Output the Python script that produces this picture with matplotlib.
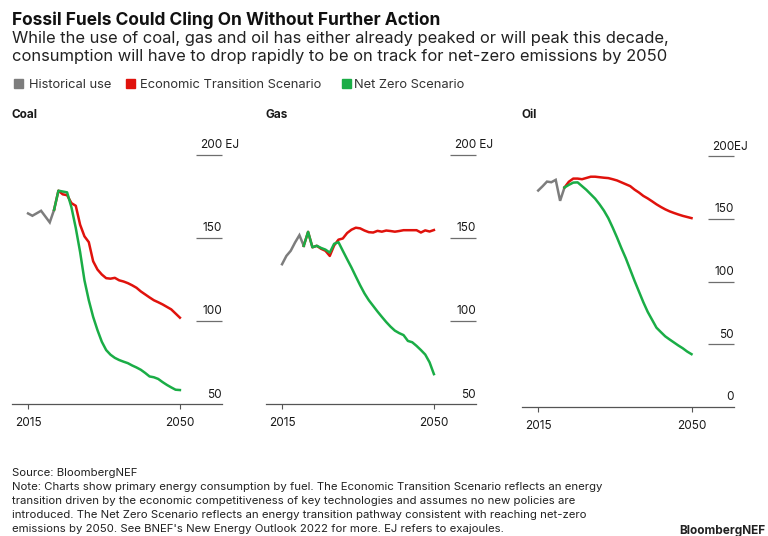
import matplotlib
matplotlib.use("Agg")
import matplotlib.pyplot as plt
from matplotlib.patches import Rectangle

plt.rcParams['font.family'] = ['Inter', 'Liberation Sans', 'DejaVu Sans']

# ---------------------------------------------------------------- data (EJ)
coal_hist_years = list(range(2015, 2022))
coal_hist = [164.8, 163.4, 164.9, 166.4, 162.9, 159.4, 167.0]
coal_scen_years = list(range(2021, 2051))
coal_ets = [167.0, 178.5, 176.3, 175.8, 171.0, 169.4, 158.0, 151.0, 147.5, 136.0,
            131.0, 128.0, 125.8, 125.5, 126.0, 124.5, 123.8, 122.8, 121.5, 120.0,
            117.8, 116.0, 114.2, 112.5, 111.3, 110.0, 108.5, 107.0, 104.5, 102.0]
coal_nz = [167.0, 178.5, 178.0, 177.5, 168.5, 156.0, 141.5, 124.5, 112.5, 102.5,
           94.5, 87.5, 82.5, 79.7, 77.8, 76.5, 75.5, 74.6, 73.2, 72.0,
           70.6, 68.7, 66.6, 66.1, 65.1, 63.2, 61.5, 60.0, 58.6, 58.4]

gas_hist_years = list(range(2015, 2021))
gas_hist = [134.2, 139.2, 142.3, 147.3, 151.7, 145.3]
gas_scen_years = list(range(2020, 2051))
gas_ets = [145.3, 153.7, 144.4, 145.3, 143.5, 142.3, 139.2, 145.5, 149.0, 149.7,
           153.0, 155.0, 156.2, 155.8, 154.5, 153.5, 153.3, 154.3, 153.8, 154.5,
           154.2, 153.8, 154.2, 154.7, 154.7, 154.7, 154.7, 153.3, 154.6, 153.9,
           154.8]
gas_nz = [145.3, 153.7, 144.4, 145.3, 144.0, 143.0, 141.2, 146.5, 147.5, 142.3,
          137.2, 132.2, 126.8, 121.5, 116.6, 112.5, 109.1, 105.7, 102.5, 99.4,
          96.6, 94.2, 92.7, 91.5, 88.0, 87.2, 85.0, 82.5, 79.8, 75.1,
          68.0]

oil_hist_years = list(range(2015, 2022))
oil_hist = [172.5, 175.9, 179.6, 179.1, 181.0, 164.3, 174.9]
oil_scen_years = list(range(2021, 2051))
oil_ets = [174.9, 179.5, 182.0, 182.0, 181.5, 182.5, 183.5, 183.5, 183.1, 182.7,
           182.4, 181.5, 180.5, 179.0, 177.5, 176.0, 173.2, 170.9, 168.2, 166.2,
           163.9, 161.5, 159.4, 157.5, 155.9, 154.6, 153.4, 152.3, 151.4, 150.5]
oil_nz = [174.9, 177.0, 178.8, 179.0, 176.0, 173.0, 169.5, 166.0, 161.5, 156.5,
          150.5, 143.0, 135.0, 126.5, 118.5, 109.5, 100.5, 92.0, 83.5, 75.8,
          69.5, 63.2, 59.7, 56.3, 53.8, 51.4, 49.0, 46.8, 44.2, 42.1]

coal_yticks = [50, 100, 150, 200]
gas_yticks = [50, 100, 150, 200]
oil_yticks = [0, 50, 100, 150, 200]
xticks = [2015, 2050]

title = "Fossil Fuels Could Cling On Without Further Action"
subtitle = ["While the use of coal, gas and oil has either already peaked or will peak this decade,",
            "consumption will have to drop rapidly to be on track for net-zero emissions by 2050"]
legend_labels = ["Historical use", "Economic Transition Scenario", "Net Zero Scenario"]
footer = ["Source: BloombergNEF",
          "Note: Charts show primary energy consumption by fuel. The Economic Transition Scenario reflects an energy",
          "transition driven by the economic competitiveness of key technologies and assumes no new policies are",
          "introduced. The Net Zero Scenario reflects an energy transition pathway consistent with reaching net-zero",
          "emissions by 2050. See BNEF's New Energy Outlook 2022 for more. EJ refers to exajoules."]

# ---------------------------------------------------------------- styling
GRAY = '#7d7d7d'
RED = '#e0120c'
GREEN = '#1aad46'
AXIS = '#555555'
TEXT = '#1a1a1a'
W, H = 768, 536
XLIM = (2011.3, 2059.7)

fig = plt.figure(figsize=(W / 100, H / 100), dpi=100)


def fx(px):
    return px / W


def fy(py):
    return 1 - py / H


def panel(name, left, right, bottom, top, ylim, yticks, unit,
          hy, hv, sy, ets, nz):
    ax = fig.add_axes([fx(left), fy(bottom), (right - left) / W, (bottom - top) / H])
    ax.set_xlim(*XLIM)
    ax.set_ylim(*ylim)
    for s in ('top', 'right', 'left'):
        ax.spines[s].set_visible(False)
    ax.spines['bottom'].set_color(AXIS)
    ax.spines['bottom'].set_linewidth(0.9)
    ax.set_yticks([])
    ax.set_xticks(xticks)
    ax.set_xticklabels([str(t) for t in xticks])
    ax.tick_params(axis='x', length=3.5, width=0.8, color=AXIS, pad=6,
                   labelsize=8.5, labelcolor=TEXT)
    ax.patch.set_alpha(0)

    # short gridline stubs with value labels on the right
    for v in yticks:
        if v != ylim[0]:
            ax.plot([2053.8, XLIM[1]], [v, v], color='#6e6e6e', lw=0.9,
                    solid_capstyle='butt', clip_on=False)
        ax.annotate(str(v), (XLIM[1], v), xytext=(0, 6.5), textcoords='offset pixels',
                    ha='right', va='baseline', fontsize=8.5, color=TEXT)
        if v == yticks[-1]:
            ax.annotate(unit, (XLIM[1], v), xytext=(0, 6.5), textcoords='offset pixels',
                        ha='left', va='baseline', fontsize=8.5, color=TEXT)

    ax.plot(hy, hv, color=GRAY, lw=1.8, solid_joinstyle='miter', clip_on=False)
    ax.plot(sy, ets, color=RED, lw=1.8, clip_on=False)
    ax.plot(sy, nz, color=GREEN, lw=1.8, clip_on=False)

    fig.text(fx(left), fy(118), name, fontsize=8.5, weight='bold', color=TEXT,
             va='baseline', ha='left')
    return ax


panel("Coal", 12, 222, 404, 130, (50, 50 + 274 / 1.66), coal_yticks, " EJ",
      coal_hist_years, coal_hist, coal_scen_years, coal_ets, coal_nz)
panel("Gas", 266, 476, 404, 130, (50, 50 + 274 / 1.66), gas_yticks, " EJ",
      gas_hist_years, gas_hist, gas_scen_years, gas_ets, gas_nz)
panel("Oil", 522, 734, 407, 130, (0, 277 / 1.255), oil_yticks, "EJ",
      oil_hist_years, oil_hist, oil_scen_years, oil_ets, oil_nz)

# ---------------------------------------------------------------- header
fig.text(fx(12), fy(25), title, fontsize=12.5, weight='bold', color='#111111',
         va='baseline')
fig.text(fx(12), fy(43.5), subtitle[0], fontsize=11.9, color='#222222', va='baseline')
fig.text(fx(12), fy(60.5), subtitle[1], fontsize=11.9, color='#222222', va='baseline')

legend_x = [(14, 29), (126, 140), (342, 354)]
for (sq, tx), lab, col in zip(legend_x, legend_labels, [GRAY, RED, GREEN]):
    fig.patches.append(Rectangle((fx(sq), fy(88)), 9 / W, 9 / H, color=col,
                                 transform=fig.transFigure, figure=fig))
    fig.text(fx(tx), fy(88), lab, fontsize=9.3, color='#333333', va='baseline')

# ---------------------------------------------------------------- footer
for i, line in enumerate(footer):
    fig.text(fx(12), fy(476 + 14 * i), line, fontsize=8.2, color='#222222',
             va='baseline')
fig.text(fx(765), fy(534), "BloombergNEF", fontsize=8.5, weight='bold',
         color='#222222', ha='right', va='baseline')

fig.savefig("out.png", dpi=100)
